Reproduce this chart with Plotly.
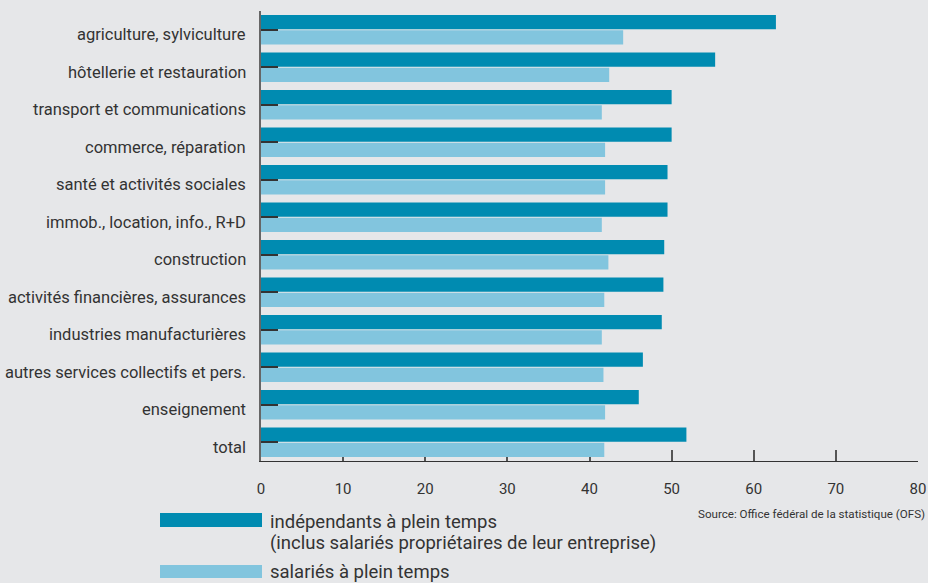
import plotly.graph_objects as go

categories = [
    "agriculture, sylviculture",
    "hôtellerie et restauration",
    "transport et communications",
    "commerce, réparation",
    "santé et activités sociales",
    "immob., location, info., R+D",
    "construction",
    "activités financières, assurances",
    "industries manufacturières",
    "autres services collectifs et pers.",
    "enseignement",
    "total",
]
independants = [62.7, 55.3, 50.0, 50.0, 49.5, 49.5, 49.1, 49.0, 48.8, 46.5, 46.0, 51.8]
salaries = [44.1, 42.4, 41.5, 41.9, 41.9, 41.5, 42.3, 41.8, 41.5, 41.7, 41.9, 41.8]
x_ticks = [0, 10, 20, 30, 40, 50, 60, 70, 80]

name_dark_1 = "indépendants à plein temps"
name_dark_2 = "(inclus salariés propriétaires de leur entreprise)"
name_light = "salariés à plein temps"
source = "Source: Office fédéral de la statistique (OFS)"

DARK = "#008bb1"
LIGHT = "#82c5de"
BG = "#e6e7e9"
FONT = "Roboto, Open Sans, sans-serif"
TXT = "#333333"

fig = go.Figure()
fig.add_trace(go.Bar(y=categories, x=independants, orientation="h",
                     marker=dict(color=DARK, line=dict(width=0)),
                     name=name_dark_1 + " " + name_dark_2))
fig.add_trace(go.Bar(y=categories, x=salaries, orientation="h",
                     marker=dict(color=LIGHT, line=dict(width=0)), name=name_light))

L, R, T, B = 261, 10, 11, 122
W, H = 928, 583
fig.update_layout(
    width=W, height=H,
    paper_bgcolor=BG, plot_bgcolor=BG,
    margin=dict(l=L, r=R, t=T, b=B, autoexpand=False),
    barmode="group", bargap=0.19, bargroupgap=0.07,
    showlegend=False,
    font=dict(family=FONT, color=TXT, size=15),
)
fig.update_xaxes(
    range=[0, 80], tickvals=x_ticks, ticktext=[str(v) for v in x_ticks],
    showgrid=False, zeroline=False,
    showline=True, linecolor="#333333", linewidth=1,
    ticks="inside", ticklen=11, tickwidth=1.5, tickcolor="#555555",
    layer="below traces",
    tickfont=dict(size=15, color=TXT), ticklabelstandoff=14,
)
fig.update_yaxes(
    categoryorder="array", categoryarray=categories, autorange="reversed",
    showgrid=False, zeroline=False,
    showline=True, linecolor="#666666", linewidth=2,
    ticks="inside", ticklen=17, tickwidth=1.5, tickcolor="#333333",
    showticklabels=False, layer="above traces",
)

for c in categories:
    fig.add_annotation(x=0, xref="paper", y=c, yref="y", text=c, showarrow=False,
                       xanchor="right", yanchor="middle", xshift=-13, yshift=-5,
                       font=dict(size=16.5, color=TXT, family=FONT))

plot_w = W - L - R
plot_h = H - T - B
def px(xp):
    return (xp - L) / plot_w
def py(yp):
    return (H - B - yp) / plot_h

fig.add_shape(type="rect", xref="paper", yref="paper", x0=px(160), x1=px(262),
              y0=py(527), y1=py(513), fillcolor=DARK, line=dict(width=0))
fig.add_shape(type="rect", xref="paper", yref="paper", x0=px(160), x1=px(262),
              y0=py(578), y1=py(565), fillcolor=LIGHT, line=dict(width=0))
leg_font = dict(size=18.5, color=TXT, family=FONT)
fig.add_annotation(x=px(268), y=py(522), xref="paper", yref="paper", text=name_dark_1,
                   showarrow=False, xanchor="left", yanchor="middle", font=leg_font)
fig.add_annotation(x=px(268), y=py(543), xref="paper", yref="paper", text=name_dark_2,
                   showarrow=False, xanchor="left", yanchor="middle", font=leg_font)
fig.add_annotation(x=px(268), y=py(572), xref="paper", yref="paper", text=name_light,
                   showarrow=False, xanchor="left", yanchor="middle", font=leg_font)
fig.add_annotation(x=px(927), y=py(514), xref="paper", yref="paper", text=source,
                   showarrow=False, xanchor="right", yanchor="middle",
                   font=dict(size=11.6, color=TXT, family=FONT))

fig.write_html("out.html", config={"displayModeBar": False},
               post_script="document.body.style.margin='0';document.body.style.overflow='hidden';")
